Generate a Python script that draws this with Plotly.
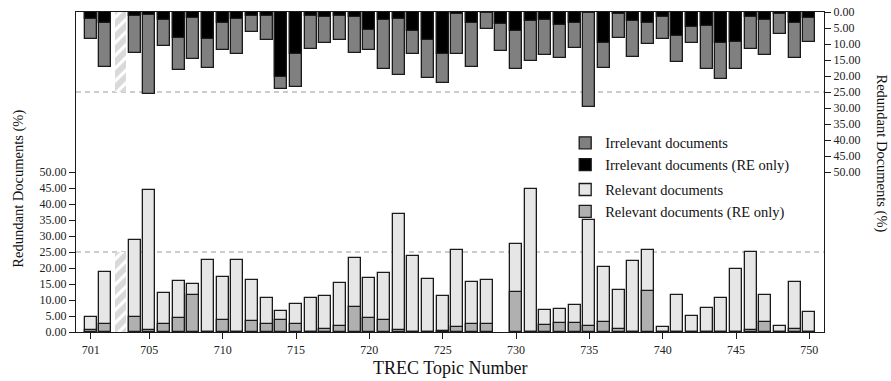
import plotly.graph_objects as go

topics = list(range(701, 751))
tick_vals = [701, 705, 710, 715, 720, 725, 730, 735, 740, 745, 750]
y_tick_vals = [0, 5, 10, 15, 20, 25, 30, 35, 40, 45, 50]

relevant = [4.8, 18.9, None, 28.8, 44.4, 12.2, 16.0, 15.1, 22.4, 17.1,
            22.4, 16.1, 10.5, 6.5, 8.7, 10.5, 11.2, 15.2, 23.1, 16.9,
            18.4, 37.0, 23.8, 16.6, 11.3, 25.6, 15.6, 16.1, None, 27.5,
            44.6, 6.9, 7.3, 8.3, 34.9, 20.3, 13.0, 22.2, 25.6, 1.6,
            11.6, 4.9, 7.4, 10.7, 19.6, 24.9, 11.6, 1.9, 15.6, 6.2]
relevant_re = [0.7, 2.4, None, 4.7, 0.6, 2.4, 4.4, 11.5, 0, 3.6,
               0, 3.3, 2.4, 3.6, 2.4, 0, 0.9, 1.8, 7.9, 4.3,
               3.8, 0.5, 0, 0, 0.4, 1.7, 2.4, 2.5, None, 12.5,
               0, 2.2, 2.8, 2.7, 1.8, 3.1, 0.8, 0, 12.9, 0,
               0, 0, 0, 0, 0, 0.6, 3.1, 0, 0.9, 0]
irrelevant = [8.3, 17.2, None, 12.8, 25.5, 10.5, 18.2, 14.7, 17.5, 12.0,
              13.1, 6.4, 8.6, 24.2, 23.5, 11.5, 9.7, 8.9, 12.9, 12.0,
              17.9, 19.8, 13.0, 20.6, 22.2, 13.1, 17.2, 5.4, 12.3, 17.9,
              15.3, 13.5, 14.4, 11.4, 29.8, 17.5, 8.1, 14.1, 9.9, 8.5,
              15.5, 9.7, 17.9, 20.8, 17.9, 11.5, 13.4, 6.8, 14.3, 9.3]
irrelevant_re = [2.2, 3.5, None, 1.1, 0.9, 2.6, 8.0, 1.8, 8.4, 3.3,
                 2.2, 1.1, 1.1, 20.3, 13.0, 1.1, 1.5, 1.1, 1.5, 5.6,
                 2.4, 2.1, 5.9, 8.6, 13.1, 0.6, 3.3, 0.3, 3.6, 5.8,
                 2.9, 2.4, 4.0, 3.3, 0.3, 9.6, 0.5, 2.7, 3.4, 1.6,
                 7.4, 4.7, 4.3, 9.6, 9.4, 1.6, 2.6, 0.5, 3.5, 1.9]
missing_topic = [703]
missing_value = [25]

FONT = "Liberation Serif, Times New Roman, serif"
OUT = dict(color="#1a1a1a", width=1.3)
W = 0.82
HATCH = dict(shape="/", fgcolor="#b4b4b4", bgcolor="white", size=9, solidity=0.65)

fig = go.Figure()

# top panel (right axis, reversed)
fig.add_trace(go.Bar(x=topics, y=irrelevant, yaxis="y2", width=W,
                     marker=dict(color="#808080", line=OUT),
                     name="Irrelevant documents", legendgroup="irr", legendrank=1))
fig.add_trace(go.Bar(x=topics, y=irrelevant_re, yaxis="y2", width=W,
                     marker=dict(color="#000000", line=OUT),
                     name="Irrelevant documents (RE only)", legendgroup="irr", legendrank=2))
fig.add_trace(go.Bar(x=missing_topic, y=missing_value, yaxis="y2", width=0.75,
                     marker=dict(color="white", line=dict(width=0), pattern=HATCH),
                     showlegend=False))

# bottom panel (left axis)
fig.add_trace(go.Bar(x=topics, y=relevant, yaxis="y", width=W,
                     marker=dict(color="#e6e6e6", line=OUT),
                     name="Relevant documents", legendgroup="rel", legendrank=3))
fig.add_trace(go.Bar(x=topics, y=relevant_re, yaxis="y", width=W,
                     marker=dict(color="#b0b0b0", line=OUT),
                     name="Relevant documents (RE only)", legendgroup="rel", legendrank=4))
fig.add_trace(go.Bar(x=missing_topic, y=missing_value, yaxis="y", width=0.75,
                     marker=dict(color="white", line=dict(width=0), pattern=HATCH),
                     showlegend=False))

dash = dict(color="#9a9a9a", width=1.2, dash="5px,4px")
fig.add_shape(type="line", xref="paper", x0=0, x1=1, yref="y", y0=25, y1=25,
              line=dash, layer="below")
fig.add_shape(type="line", xref="paper", x0=0, x1=1, yref="y2", y0=25, y1=25,
              line=dash, layer="below")

axis_common = dict(showgrid=False, zeroline=False, showline=True, linecolor="#1a1a1a",
                   linewidth=1.3, ticks="outside", ticklen=6, tickwidth=1.2,
                   tickcolor="#1a1a1a", automargin=False,
                   tickfont=dict(family=FONT, size=12, color="#222"))

fig.update_layout(
    width=891, height=381,
    margin=dict(l=76, r=67, t=12, b=49, autoexpand=False),
    paper_bgcolor="white", plot_bgcolor="white",
    barmode="overlay", bargap=0,
    font=dict(family=FONT, color="#111"),
    xaxis=dict(range=[700, 751], tickvals=tick_vals, mirror=True, **axis_common),
    yaxis=dict(range=[0, 100], tickvals=y_tick_vals, tickformat=".2f", side="left",
               **axis_common),
    yaxis2=dict(range=[100, 0], tickvals=y_tick_vals, tickformat=".2f", side="right",
                overlaying="y", **axis_common),
    legend=dict(x=0.654, y=0.641, xanchor="left", yanchor="top",
                font=dict(family=FONT, size=14.5, color="#111"),
                tracegroupgap=3, bgcolor="rgba(0,0,0,0)", itemwidth=30,
                traceorder="grouped"),
    annotations=[
        dict(text="TREC Topic Number", xref="paper", yref="paper", x=0.5, y=-0.1125,
             showarrow=False, font=dict(family=FONT, size=18, color="#111"),
             xanchor="center", yanchor="middle"),
        dict(text="Redundant Documents (%)", xref="paper", yref="paper", x=-0.0762, y=0.448,
             textangle=-90, showarrow=False, font=dict(family=FONT, size=14.5, color="#111"),
             xanchor="center", yanchor="middle"),
        dict(text="Redundant Documents (%)", xref="paper", yref="paper", x=1.0775, y=0.558,
             textangle=90, showarrow=False, font=dict(family=FONT, size=14.5, color="#111"),
             xanchor="center", yanchor="middle"),
    ],
)

fig.write_html("out.html", config={"displayModeBar": False},
               post_script="document.body.style.margin='0px';document.body.style.padding='0px';")
